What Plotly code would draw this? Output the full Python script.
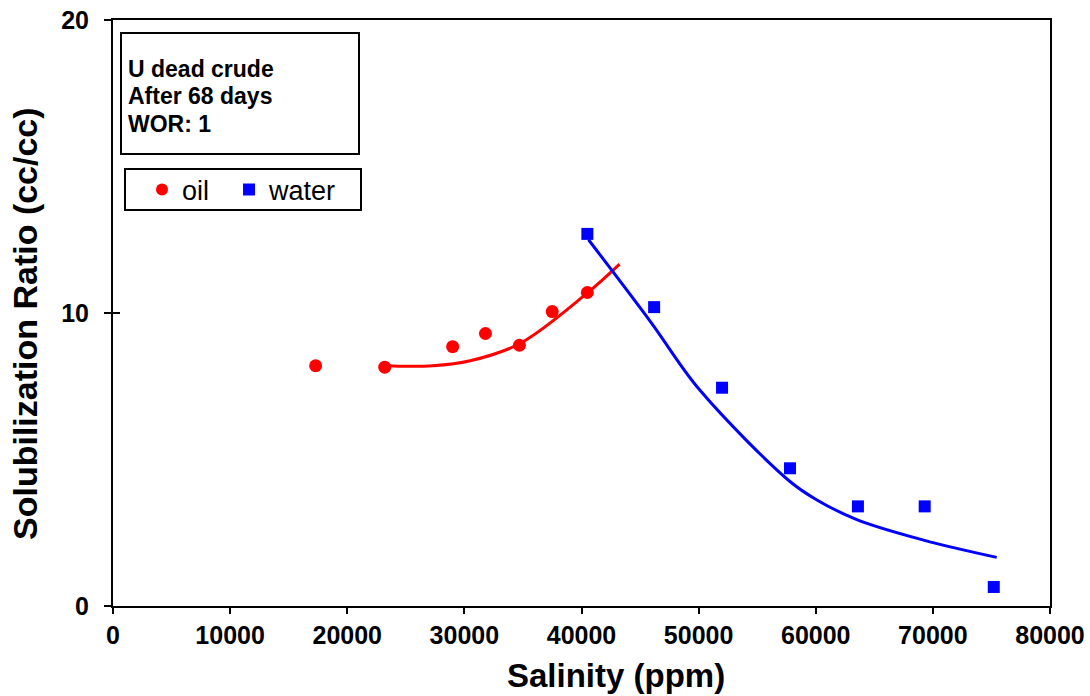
import plotly.graph_objects as go

# Measured solubilization ratios vs. salinity
oil_salinity = [17300, 23200, 29000, 31800, 34700, 37500, 40500]
oil_ratio = [8.2, 8.15, 8.85, 9.3, 8.9, 10.05, 10.7]

water_salinity = [40500, 46200, 52000, 57800, 63600, 69300, 75200]
water_ratio = [12.7, 10.2, 7.45, 4.7, 3.4, 3.4, 0.65]

# Trend curves through the measurements
oil_fit_x = [23100, 27300, 30500, 34700, 40450, 43250]
oil_fit_y = [8.2, 8.2, 8.37, 8.95, 10.67, 11.67]

water_fit_x = [40600, 45900, 50100, 57800, 60100, 63500, 69200, 75450]
water_fit_y = [12.5, 9.7, 7.37, 4.25, 3.62, 2.95, 2.25, 1.66]

x_ticks = [0, 10000, 20000, 30000, 40000, 50000, 60000, 70000, 80000]
y_ticks = [0, 10, 20]

info_lines = ["U dead crude", "After 68 days", "WOR: 1"]

FONT = "Liberation Sans, Arial, sans-serif"
RED = "#ff0000"
BLUE = "#0000ff"

# Plot-area geometry (pixels) used to place paper-referenced decorations
L, R, T, B = 113, 40, 20, 90
W, H = 1090, 696
PW, PH = W - L - R, H - T - B


def px_x(px):
    return (px - L) / PW


def px_y(py):
    return (H - B - py) / PH


fig = go.Figure()

fig.add_trace(go.Scatter(
    x=oil_fit_x, y=oil_fit_y, mode="lines",
    line=dict(color=RED, width=3, shape="spline", smoothing=1.0),
    showlegend=False, hoverinfo="skip",
))
fig.add_trace(go.Scatter(
    x=water_fit_x, y=water_fit_y, mode="lines",
    line=dict(color=BLUE, width=3, shape="spline", smoothing=1.0),
    showlegend=False, hoverinfo="skip",
))
fig.add_trace(go.Scatter(
    x=oil_salinity, y=oil_ratio, mode="markers", name="oil\u00a0\u00a0",
    marker=dict(symbol="circle", color=RED, size=13),
))
fig.add_trace(go.Scatter(
    x=water_salinity, y=water_ratio, mode="markers", name="water",
    marker=dict(symbol="square", color=BLUE, size=12),
))
# Empty trace carrying the inner half of the crossing y ticks
fig.add_trace(go.Scatter(x=[], y=[], yaxis="y2", showlegend=False, hoverinfo="skip"))

# Info box
fig.add_shape(type="rect", xref="paper", yref="paper",
              x0=px_x(121), x1=px_x(359), y0=px_y(154), y1=px_y(33),
              line=dict(color="black", width=2), fillcolor="white", layer="below")
for text, cy in zip(info_lines, [69, 96, 123.5]):
    fig.add_annotation(
        xref="paper", yref="paper", x=px_x(126), y=px_y(cy),
        xanchor="left", yanchor="middle", text=text, showarrow=False,
        font=dict(family=FONT, size=23, color="black", weight="bold"),
    )

# Legend frame
fig.add_shape(type="rect", xref="paper", yref="paper",
              x0=px_x(125), x1=px_x(361), y0=px_y(210), y1=px_y(169),
              line=dict(color="black", width=2), fillcolor="white", layer="below")

# Axis titles
fig.add_annotation(
    xref="paper", yref="paper", x=px_x(616), y=px_y(675),
    xanchor="center", yanchor="middle", text="Salinity (ppm)", showarrow=False,
    font=dict(family=FONT, size=33, color="black", weight="bold"),
)
fig.add_annotation(
    xref="paper", yref="paper", x=px_x(25), y=px_y(324),
    xanchor="center", yanchor="middle", text="Solubilization Ratio (cc/cc)",
    textangle=-90, showarrow=False,
    font=dict(family=FONT, size=34, color="black", weight="bold"),
)

fig.update_layout(
    width=W, height=H,
    margin=dict(l=L, r=R, t=T, b=B, autoexpand=False),
    paper_bgcolor="white", plot_bgcolor="white",
    font=dict(family=FONT, color="black"),
    legend=dict(
        orientation="h", x=px_x(142), y=px_y(190), xanchor="left", yanchor="middle",
        bgcolor="rgba(0,0,0,0)", borderwidth=0,
        font=dict(family=FONT, size=27, color="black"),
        itemsizing="constant",
    ),
    xaxis=dict(
        range=[0, 80000], tickvals=x_ticks, ticktext=[str(v) for v in x_ticks],
        showline=True, linecolor="black", linewidth=2, mirror=True,
        ticks="outside", ticklen=6, tickwidth=1.5, tickcolor="black",
        showgrid=False, zeroline=False, automargin=False,
        tickfont=dict(family=FONT, size=25, color="black", weight="bold"),
    ),
    yaxis=dict(
        range=[0, 20], tickvals=y_ticks, ticktext=[str(v) for v in y_ticks],
        showline=True, linecolor="black", linewidth=2, mirror=True,
        ticks="outside", ticklen=7, tickwidth=1.5, tickcolor="black",
        ticklabelstandoff=10,
        showgrid=False, zeroline=False, automargin=False,
        tickfont=dict(family=FONT, size=25, color="black", weight="bold"),
    ),
    yaxis2=dict(
        range=[0, 20], tickvals=y_ticks, overlaying="y", side="left",
        ticks="inside", ticklen=7, tickwidth=1.5, tickcolor="black",
        showticklabels=False, showline=False, showgrid=False, zeroline=False,
        automargin=False,
    ),
)

fig.write_html("out.html")
